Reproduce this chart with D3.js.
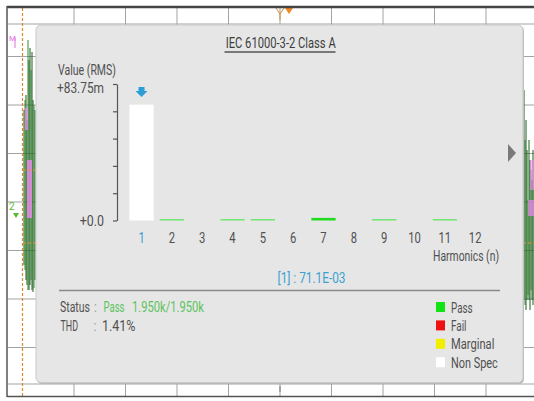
<!DOCTYPE html>
<html><head><meta charset="utf-8">
<script src="https://cdn.jsdelivr.net/npm/d3@7/dist/d3.min.js"></script>
<style>
html,body{margin:0;padding:0;background:#fff;}
svg{display:block;}
text{font-family:Roboto,"Liberation Sans",sans-serif;}
</style></head>
<body>
<svg id="c" width="534" height="401"></svg>
<script>
// ---- data ----
const title = "IEC 61000-3-2 Class A";
const harmonics = ["1","2","3","4","5","6","7","8","9","10","11","12"];
const valuesMilli = [71.1, 0.9, 0, 0.9, 0.9, 0, 1.6, 0, 0.9, 0, 0.9, 0];
const statuses = ["nonspec","pass","pass","pass","pass","pass","pass2","pass","pass","pass","pass","pass"];
const yMax = 83.75;
const yTickLabels = ["+0.0","","","","","+83.75m"];
const legendNames = ["Pass","Fail","Marginal","Non Spec"];
const legendColors = ["#12e312","#ee1111","#f2ee00","#ffffff"];
const statusLine = ["Status", ":", "Pass", "1.950k/1.950k"];
const thdLine = ["THD", ":", "1.41%"];
const cursorReadout = "[1] : 71.1E-03";
// decorative background trace envelopes (y ranges)
const leftTraceX = [24,25,26,27,28,29,30,31,32,33,34,35];
const leftTraceTop = [110,100,95,120,40,60,48,70,52,100,105,110];
const leftTraceBot = [265,270,280,285,290,290,285,280,290,292,288,280];
const rightTraceX = [524,525,526,527,528,529,530,531,532,533,534];
const rightTraceTop = [90,140,120,150,200,140,160,170,180,150,190];
const rightTraceBot = [300,305,310,300,295,300,310,290,300,305,300];

const colorFor = {nonspec:"#ffffff", pass:"#6fe66f", pass2:"#1fdc1f"};
const svg = d3.select("#c");
const FS = 14.5;
function T(parent, x, y, s, w, opts={}) {
  const t = parent.append("text").attr("x",x).attr("y",y).attr("font-size",opts.size||FS)
    .attr("fill",opts.fill||"#505050").text(s);
  if (opts.anchor) t.attr("text-anchor",opts.anchor);
  if (w) t.attr("textLength",w).attr("lengthAdjust","spacingAndGlyphs");
  return t;
}
// row of separate texts, smaller font stretched vertically so natural widths fit
function row(parent, y, parts) {
  const g = parent.append("g").attr("transform",`translate(0,${y}) scale(1,1.2)`);
  parts.forEach(p=>{
    const t = g.append("text").attr("x",p.x).attr("y",0).attr("font-size",11.8).attr("fill",p.fill).text(p.s);
    if (p.w) t.attr("textLength",p.w).attr("lengthAdjust","spacingAndGlyphs");
  });
  return g;
}

// ---- oscilloscope background ----
svg.append("rect").attr("x",7).attr("y",7).attr("width",527).attr("height",389).attr("fill","#ffffff");
const gridG = svg.append("g").attr("stroke","#a3a3a3").attr("stroke-width",1);
d3.range(74, 534, 51.5).forEach(x=>gridG.append("line").attr("x1",x).attr("x2",x).attr("y1",8).attr("y2",396));
[24, 56.5, 105, 153.5, 202, 250.5, 299, 347.5, 384].forEach(y=>gridG.append("line").attr("x1",8).attr("x2",534).attr("y1",y).attr("y2",y));
// traces
const tr = svg.append("g");
leftTraceX.forEach((x,i)=>tr.append("line").attr("x1",x).attr("x2",x).attr("y1",leftTraceTop[i]).attr("y2",leftTraceBot[i]).attr("stroke", i%3===1?"#3a8a3a":"#1b5e1b").attr("stroke-width",1));
rightTraceX.forEach((x,i)=>tr.append("line").attr("x1",x).attr("x2",x).attr("y1",rightTraceTop[i]).attr("y2",rightTraceBot[i]).attr("stroke", i%3===1?"#3a8a3a":"#1b5e1b").attr("stroke-width",1));
tr.append("rect").attr("x",27).attr("y",160).attr("width",5).attr("height",58).attr("fill","#f08af0").attr("opacity",0.8);
tr.append("rect").attr("x",25).attr("y",108).attr("width",3).attr("height",22).attr("fill","#f08af0").attr("opacity",0.7);
tr.append("rect").attr("x",528).attr("y",200).attr("width",6).attr("height",16).attr("fill","#f08af0").attr("opacity",0.7);
tr.append("rect").attr("x",530).attr("y",160).attr("width",4).attr("height",30).attr("fill","#f08af0").attr("opacity",0.6);
// orange cursor
svg.append("line").attr("x1",22.5).attr("x2",22.5).attr("y1",8).attr("y2",396).attr("stroke","#d98a2a").attr("stroke-width",1.2).attr("stroke-dasharray","3,2");
[170,243].forEach(y=>svg.append("line").attr("x1",23).attr("x2",36).attr("y1",y).attr("y2",y).attr("stroke","#e8963a").attr("stroke-dasharray","3,2"));
[243].forEach(y=>svg.append("line").attr("x1",523).attr("x2",534).attr("y1",y).attr("y2",y).attr("stroke","#e8963a").attr("stroke-dasharray","3,2"));
// markers
svg.append("text").attr("x",9).attr("y",41).attr("font-size",8).attr("fill","#e070e0").text("M");
svg.append("line").attr("x1",15).attr("x2",15).attr("y1",38).attr("y2",48).attr("stroke","#e070e0");
svg.append("text").attr("x",9).attr("y",210).attr("font-size",10).attr("fill","#5aba2a").text("2");
svg.append("path").attr("d","M13,213 L19,213 L16,218 Z").attr("fill","#5aba2a");
svg.append("path").attr("d","M285,8 L293,8 L289,14 Z").attr("fill","#f08a20");
svg.append("path").attr("d","M276,8 L280,14 L284,8 M280,14 L280,20").attr("stroke","#d08a3a").attr("fill","none");
svg.append("line").attr("x1",280).attr("x2",280).attr("y1",386).attr("y2",392).attr("stroke","#777");
// frame
svg.append("line").attr("x1",7).attr("x2",534).attr("y1",7).attr("y2",7).attr("stroke","#444").attr("stroke-width",2.5);
svg.append("line").attr("x1",7).attr("x2",7).attr("y1",6).attr("y2",397).attr("stroke","#555").attr("stroke-width",1.5);
svg.append("line").attr("x1",7).attr("x2",534).attr("y1",396.5).attr("y2",396.5).attr("stroke","#555").attr("stroke-width",1.5);

// ---- panel ----
svg.append("rect").attr("x",37).attr("y",26).attr("width",487).attr("height",358).attr("rx",5).attr("fill","#b8b8b8");
svg.append("rect").attr("x",36).attr("y",25).attr("width",487).attr("height",357.5).attr("rx",5).attr("fill","#e6e6e6").attr("stroke","#c9c9c9");

const txt = "#505050";
T(svg, 225.7, 47.5, title, 110, {fill:"#3c3c3c"});
svg.append("line").attr("x1",224.5).attr("x2",335.5).attr("y1",52).attr("y2",52).attr("stroke","#555").attr("stroke-width",1.3);

// scales
const x = d3.scaleBand().domain(harmonics).range([129.4, 487.3]).paddingInner(0.2).paddingOuter(0);
const y = d3.scaleLinear().domain([0, yMax]).range([220.5, 84]);
const tickVals = d3.range(6).map(i=>yMax*i/5);

const ax = svg.append("g").attr("transform","translate(117,0)")
  .call(d3.axisLeft(y).tickValues(tickVals).tickSize(4).tickSizeOuter(0).tickPadding(9).tickFormat((d,i)=>yTickLabels[i]));
ax.select(".domain").attr("stroke","#555").attr("stroke-width",1.2);
ax.selectAll(".tick line").attr("stroke","#555").attr("stroke-width",1.2);
ax.selectAll(".tick text").attr("font-size",FS).attr("fill",txt).attr("font-family",null)
  .attr("textLength",(d,i)=>i===5?47:(i===0?24.3:null)).attr("lengthAdjust","spacingAndGlyphs");
ax.selectAll(".tick text").filter((d,i)=>i===5).attr("dy","0.6em");
T(svg, 58, 74.5, "Value (RMS)", 58);

// bars
svg.append("g").selectAll("rect").data(harmonics).join("rect")
  .attr("x",d=>x(d)).attr("width",x.bandwidth())
  .attr("y",(d,i)=>y(valuesMilli[i]))
  .attr("height",(d,i)=>y(0)-y(valuesMilli[i]))
  .attr("fill",(d,i)=>colorFor[statuses[i]]);

// selection marker above bar 1
const cx = x("1")+x.bandwidth()/2;
svg.append("path").attr("d",`M${cx-3},87 L${cx+3},87 L${cx+3},91 L${cx+6},91 L${cx},97 L${cx-6},91 L${cx-3},91 Z`).attr("fill","#2a9ed6");

// category labels
svg.append("g").selectAll("text").data(harmonics).join("text")
  .attr("x",d=>x(d)+x.bandwidth()/2).attr("y",242.5).attr("text-anchor","middle").attr("font-size",FS)
  .attr("textLength",d=>d.length*6.3).attr("lengthAdjust","spacingAndGlyphs")
  .attr("fill",(d,i)=>i===0?"#3aa0d0":txt).text(d=>d);
T(svg, 433, 260.5, "Harmonics (n)", 66);
T(svg, 277.5, 282.5, cursorReadout, 68, {fill:"#3aa0d0"});

// right nav arrow
svg.append("path").attr("d","M508,144 L516,153 L508,162 Z").attr("fill","#7a7a7a");

// separator
svg.append("line").attr("x1",59).attr("x2",500).attr("y1",290.5).attr("y2",290.5).attr("stroke","#8a8a8a").attr("stroke-width",1.5);

// status
row(svg, 312, [
  {x:60, s:statusLine[0], w:30, fill:txt},
  {x:94, s:statusLine[1], fill:"#999"},
  {x:103.5, s:statusLine[2], w:21, fill:"#5cc35c"},
  {x:132, s:statusLine[3], w:72, fill:"#5cc35c"}
]);
row(svg, 331, [
  {x:60.5, s:thdLine[0], w:17.5, fill:txt},
  {x:93.5, s:thdLine[1], fill:"#999"},
  {x:102, s:thdLine[2], w:33.5, fill:txt}
]);

// legend
const legW = [21.6, 15.5, 43.4, 46.8];
const lg = svg.append("g").selectAll("g").data(legendNames).join("g")
  .attr("transform",(d,i)=>`translate(436,${302+i*18.4})`);
lg.append("rect").attr("width",9).attr("height",10).attr("fill",(d,i)=>legendColors[i]);
lg.append("text").attr("x",15).attr("y",10.5).attr("font-size",FS).attr("fill",txt)
  .attr("textLength",(d,i)=>legW[i]).attr("lengthAdjust","spacingAndGlyphs").text(d=>d);
</script>
</body></html>
